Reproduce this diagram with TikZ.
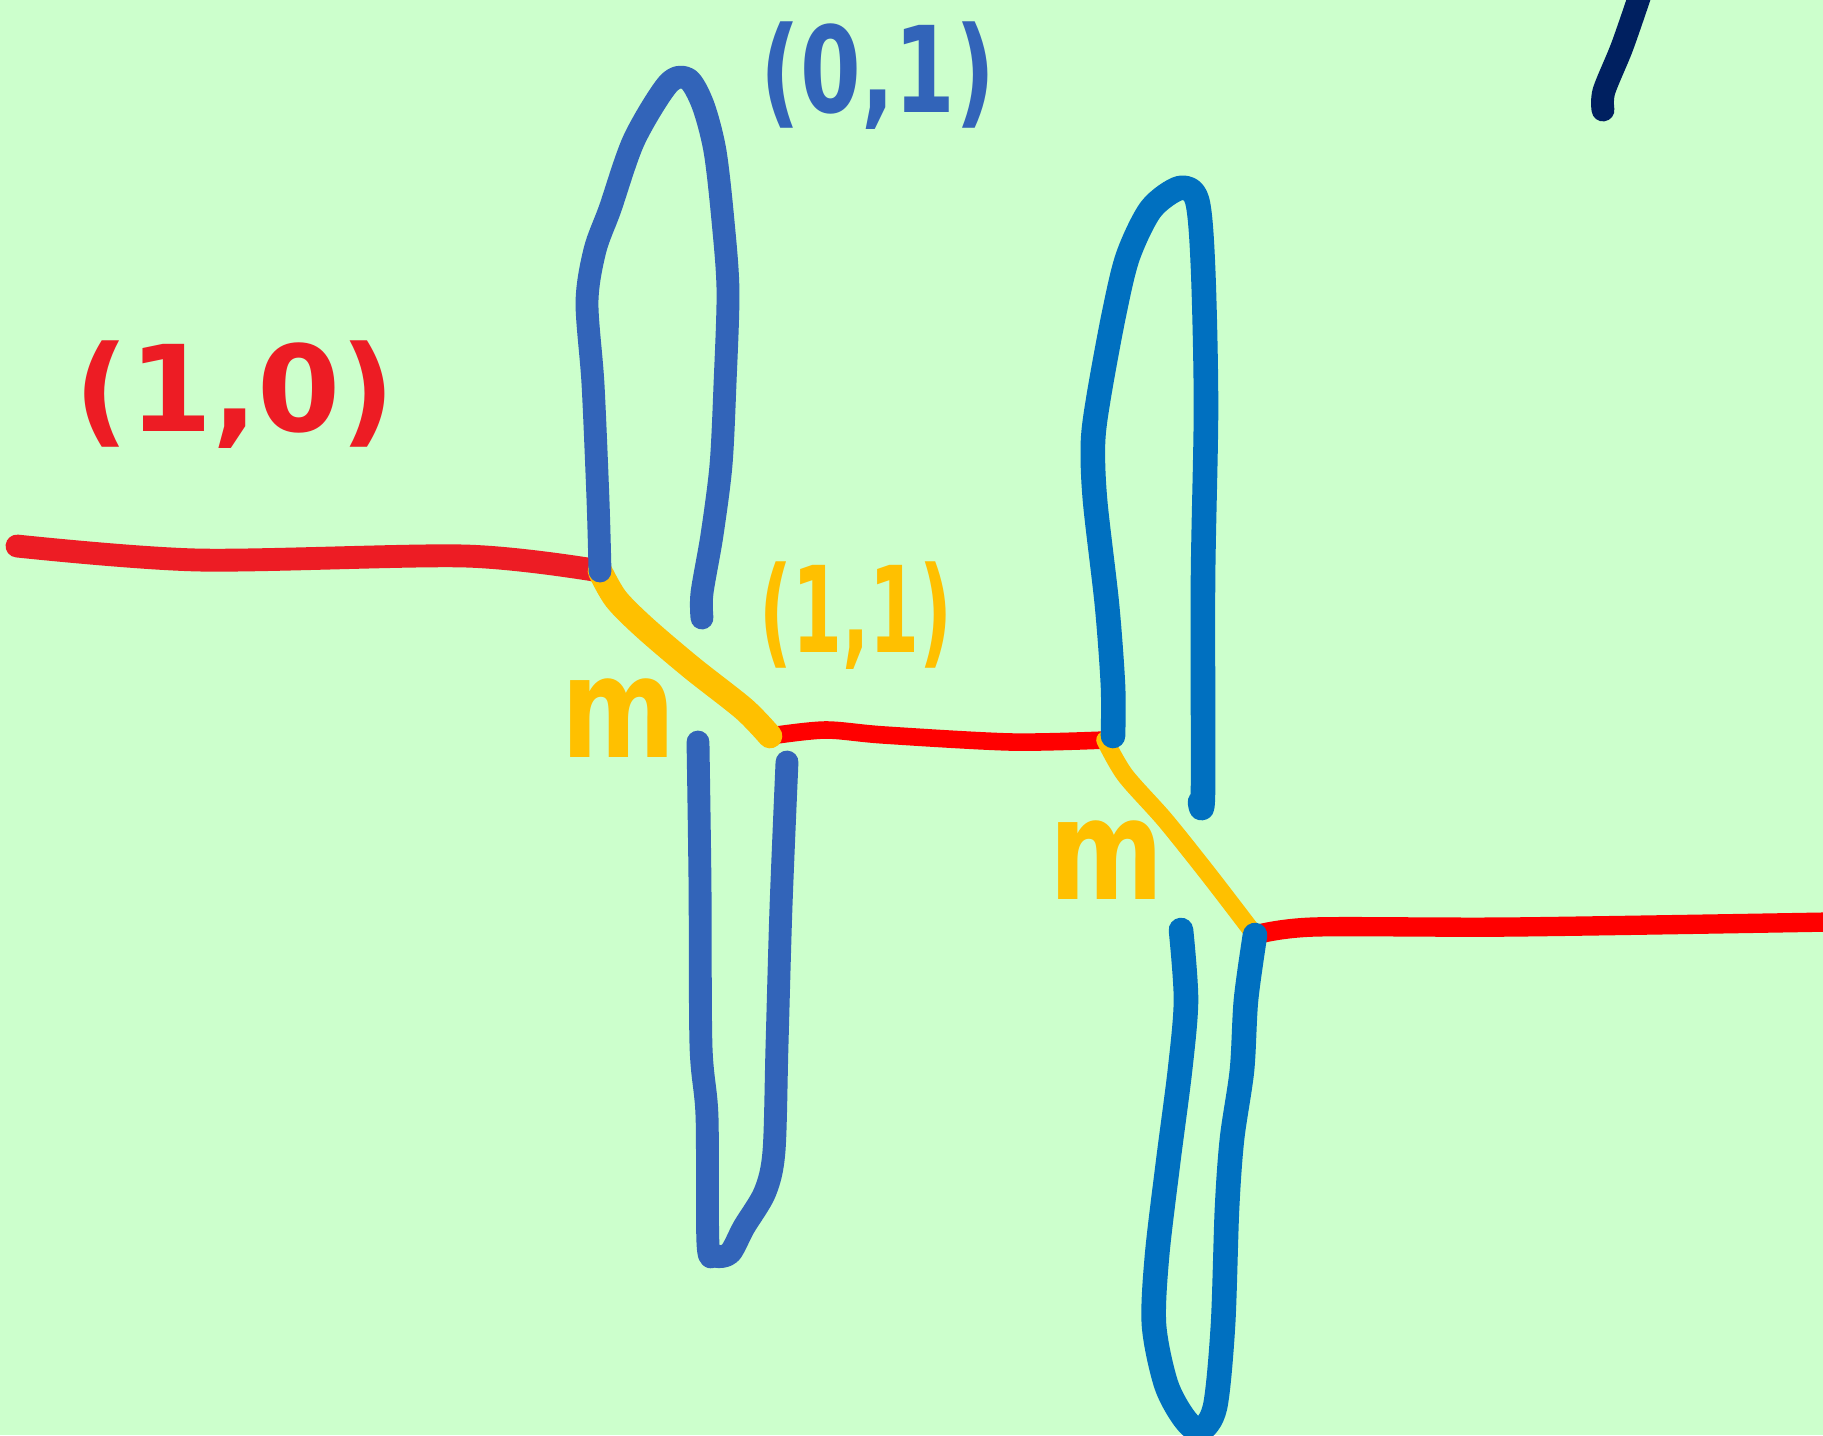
\documentclass[tikz,border=0pt]{standalone}
\usepackage{fontspec}
\setmainfont{DejaVu Sans}
\usepackage{tikz}
\usepackage{xcolor}
\definecolor{skbg}{RGB}{204,255,204}
\definecolor{skred}{RGB}{237,28,36}
\definecolor{skredb}{RGB}{255,0,0}
\definecolor{skblue}{RGB}{50,100,185}
\definecolor{skbluetwo}{RGB}{0,112,192}
\definecolor{skyellow}{RGB}{255,192,0}
\definecolor{sknavy}{RGB}{0,32,96}
\tikzset{
  skline/.style={line width=6pt, line cap=round, line join=round},
  skred/.style={skline, line width=6.5pt, draw=skred},
  skredb/.style={skline, line width=5pt, draw=skredb},
  skblue/.style={skline, line width=6.5pt, draw=skblue},
  skbluetwo/.style={skline, line width=7pt, draw=skbluetwo},
  skyel/.style={skline, line width=7pt, draw=skyellow},
  sklab/.style={font=\fontsize{34}{40}\selectfont\bfseries, inner sep=0pt}
}

\begin{document}
\begin{tikzpicture}[x=0.01cm, y=-0.01cm]
  \fill[skbg] (0,0) rectangle (1823,1435);
  \useasboundingbox (0,0) rectangle (1823,1435);
  % junctions
  \coordinate (j1) at (600,571);
  \coordinate (j2) at (770,736);
  \coordinate (j3) at (1105,740);
  \coordinate (j4) at (1255,935);
  % red legs
  \draw[skred, smooth] plot coordinates {(17,546) (198,560) (465,556) (j1)};
  \draw[skredb, smooth] plot coordinates {(j2) (825,730) (884,735) (1011,742) (j3)};
  \draw[skredb, line width=5.5pt, smooth] plot coordinates {(j4) (1314,927) (1511,927) (1830,922)};
  % yellow legs
  \draw[skyel, smooth] plot coordinates {(j1) (616,599) (645,628) (692,668) (744,709) (j2)};
  \draw[skyel, line width=5pt, smooth] plot coordinates {(j3) (1125,775) (1165,820) (1209,875) (j4)};
  % blue loops
  \draw[skblue, smooth] plot coordinates {(j1) (598,500) (593,384) (587,302) (595,250) (610,209) (634,140) (668,84) (688,79) (703,105) (715,151) (723,221) (728,291) (725,384) (721,465) (712,535) (702,593) (702,618)};
  \draw[skblue, smooth] plot coordinates {(698,742) (700,884) (701,1046) (707,1116) (708,1244) (715,1256) (730,1253) (744,1227) (765,1192) (774,1151) (777,1046) (781,907) (787,762)};
  \draw[skbluetwo, smooth] plot coordinates {(1113,736) (1113,686) (1107,605) (1095,500) (1093,442) (1099,395) (1114,314) (1128,256) (1151,209) (1180,188) (1197,200) (1203,267) (1206,407) (1203,581) (1203,791) (1200,802)};
  \draw[skbluetwo, smooth] plot coordinates {(1181,930) (1186,1000) (1180,1070) (1168,1163) (1157,1256) (1154,1325) (1166,1384) (1184,1418) (1200,1430) (1215,1407) (1223,1325) (1227,1209) (1232,1139) (1242,1070) (1246,1000) (j4)};
  % stray stroke
  \draw[skline, line width=6.5pt, draw=sknavy, smooth] plot coordinates {(1640,-5) (1622,47) (1604,91) (1603,110)};
  % labels
  \node[sklab, text=skred] (lab10) at (235,395) {(1,0)};
  \node[sklab, text=skblue, xscale=0.73] (lab01) at (878,76) {(0,1)};
  \node[sklab, text=skyellow, xscale=0.6] (lab11) at (856,616) {(1,1)};
  \node[sklab, text=skyellow, font=\fontsize{40}{46}\selectfont\bfseries, xscale=0.78] (mone) at (619,718) {m};
  \node[sklab, text=skyellow, font=\fontsize{40}{46}\selectfont\bfseries, xscale=0.78] (mtwo) at (1107,860) {m};
\end{tikzpicture}
\end{document}
